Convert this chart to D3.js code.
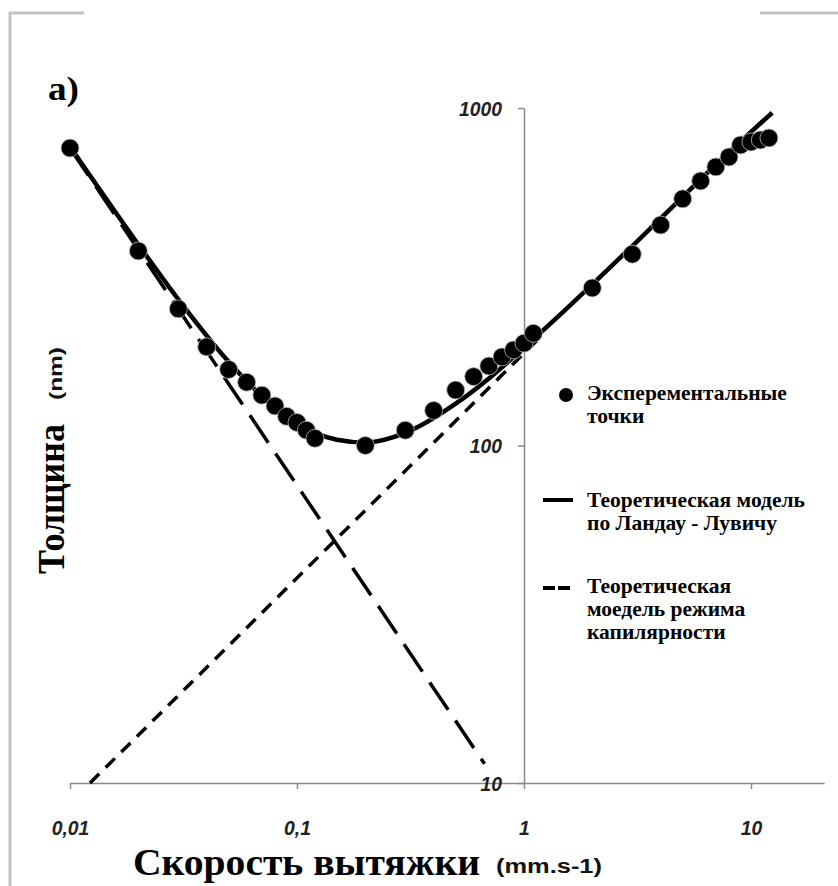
<!doctype html>
<html>
<head>
<style>
body { margin: 0; background: #fff; }
svg { display: block; }
.tick text { font-family: "Liberation Sans", Arial, sans-serif; font-weight: bold; font-style: italic; font-size: 21px; fill: #222; }
.serif { font-family: "Liberation Serif", "Times New Roman", serif; font-weight: bold; fill: #000; }
.sans { font-family: "Liberation Sans", Arial, sans-serif; font-weight: bold; fill: #111; }
</style>
</head>
<body>
<svg width="838" height="886" id="chart"></svg>
<script src="https://d3js.org/d3.v7.min.js"></script>
<script>
// axis ticks
var speedTicks = [0.01, 0.1, 1, 10];
var speedTickLabels = ["0,01", "0,1", "1", "10"];
var thickTicks = [10, 100, 1000];
var thickTickLabels = ["10", "100", "1000"];

// experimental points, speed (mm/s) and thickness (nm)
var pointSpeed = [0.01, 0.02, 0.03, 0.04, 0.05, 0.06, 0.07, 0.08, 0.09, 0.1, 0.11, 0.12,
                  0.2, 0.3, 0.4, 0.5, 0.6, 0.7, 0.8, 0.9, 1.0, 1.1,
                  2, 3, 4, 5, 6, 7, 8, 9, 10, 11, 12];
var pointThick = [761, 377, 254, 196, 168, 154, 141, 131, 122, 117, 111, 105,
                  100, 111, 127, 146, 160, 172, 183, 192, 201, 215,
                  293, 369, 450, 538, 608, 669, 716, 777, 793, 804, 815];

// Landau-Levich model curve
var modelSpeed = [0.01, 0.02, 0.03, 0.05, 0.07, 0.1, 0.15, 0.2, 0.3, 0.5, 0.7, 1, 1.5, 2, 3, 5, 7, 10, 12.4];
var modelThick = [769, 394, 271, 177, 140, 116, 104, 102, 109, 133, 158, 195, 250, 300, 390, 545, 680, 850, 968];

// capillary regime lines (two dashed straight lines on log-log)
var capSpeed = [0.01, 0.67];
var capThick = [760, 11.4];
var llSpeed = [0.01225, 1.15];
var llThick = [10, 206];

var svg = d3.select("#chart");

svg.append("rect").attr("width", 838).attr("height", 886).attr("fill", "#fff");

// picture frame remains
var frame = svg.append("g").attr("stroke", "#c4c4c4").attr("stroke-width", 3).attr("fill", "none");
frame.append("path").attr("d", "M10,886V13H84");
frame.append("path").attr("d", "M760,13H838");

var x = d3.scaleLog().domain([0.01, 10]).range([70, 751]);
var y = d3.scaleLog().domain([10, 1000]).range([783, 108]);
var xAxisScale = x.copy().domain([0.01, 21]).range([70, x(21)]);

var xAxis = svg.append("g")
    .attr("transform", "translate(0," + y(10) + ")")
    .call(d3.axisBottom(xAxisScale).tickValues(speedTicks)
        .tickFormat(function(d, i) { return speedTickLabels[i]; })
        .tickSize(6).tickSizeOuter(0).tickPadding(31));

var yAxis = svg.append("g")
    .attr("transform", "translate(" + x(1) + ",0)")
    .call(d3.axisLeft(y).tickValues(thickTicks)
        .tickFormat(function(d, i) { return thickTickLabels[i]; })
        .tickSize(6).tickSizeOuter(0).tickPadding(16));

svg.selectAll(".domain, .tick line").attr("stroke", "#8a8a8a").attr("stroke-width", 1.5);
yAxis.selectAll(".tick text").attr("dy", "0.35em");
svg.selectAll(".tick text").attr("textLength", function() { return this.getComputedTextLength() * 0.92; })
    .attr("lengthAdjust", "spacingAndGlyphs");

var line = d3.line()
    .x(function(d) { return x(d[0]); })
    .y(function(d) { return y(d[1]); });

svg.append("path")
    .attr("d", line(d3.zip(llSpeed, llThick)))
    .attr("fill", "none").attr("stroke", "#000").attr("stroke-width", 3.5)
    .attr("stroke-dasharray", "13,9");

svg.append("path")
    .attr("d", line(d3.zip(capSpeed, capThick)))
    .attr("fill", "none").attr("stroke", "#000").attr("stroke-width", 3.5)
    .attr("stroke-dasharray", "33,13");

svg.append("path")
    .attr("d", line.curve(d3.curveMonotoneX)(d3.zip(modelSpeed, modelThick)))
    .attr("fill", "none").attr("stroke", "#000").attr("stroke-width", 4.5);

svg.append("g").selectAll("circle")
    .data(d3.zip(pointSpeed, pointThick))
    .enter().append("circle")
    .attr("cx", function(d) { return x(d[0]); })
    .attr("cy", function(d) { return y(d[1]); })
    .attr("r", 9)
    .attr("fill", "#000")
    .attr("stroke", "#bbb").attr("stroke-width", 0.8);

// titles
svg.append("text").attr("class", "serif").attr("x", 48).attr("y", 100)
    .attr("font-size", 34).attr("textLength", 31).attr("lengthAdjust", "spacingAndGlyphs").text("a)");

svg.append("text").attr("class", "serif")
    .attr("transform", "translate(64,574) rotate(-90)")
    .attr("font-size", 37).attr("textLength", 150).attr("lengthAdjust", "spacingAndGlyphs")
    .text("Толщина");
svg.append("text").attr("class", "sans")
    .attr("transform", "translate(62,400) rotate(-90)")
    .attr("font-size", 18).attr("textLength", 53).attr("lengthAdjust", "spacingAndGlyphs")
    .text("(nm)");

svg.append("text").attr("class", "serif").attr("x", 133).attr("y", 875)
    .attr("font-size", 37).attr("textLength", 347).attr("lengthAdjust", "spacingAndGlyphs")
    .text("Скорость вытяжки");
svg.append("text").attr("class", "sans").attr("x", 496).attr("y", 873)
    .attr("font-size", 20).attr("textLength", 106).attr("lengthAdjust", "spacingAndGlyphs")
    .text("(mm.s-1)");

// legend
var legendLines = [
    ["Эксперементальные", "точки"],
    ["Теоретическая модель", "по Ландау - Лувичу"],
    ["Теоретическая", "моедель режима", "капилярности"]
];
var legendTop = [400, 507, 593];
var legend = svg.append("g");
legendLines.forEach(function(lines, k) {
    lines.forEach(function(s, j) {
        legend.append("text").attr("class", "serif").attr("font-size", 21.5)
            .attr("x", 587).attr("y", legendTop[k] + j * 23).text(s);
    });
});
legend.append("circle").attr("cx", 566).attr("cy", 395).attr("r", 7).attr("fill", "#000");
legend.append("line").attr("x1", 543).attr("x2", 573).attr("y1", 500).attr("y2", 500)
    .attr("stroke", "#000").attr("stroke-width", 4);
legend.append("line").attr("x1", 543).attr("x2", 573).attr("y1", 588).attr("y2", 588)
    .attr("stroke", "#000").attr("stroke-width", 4).attr("stroke-dasharray", "12,3");
</script>
</body>
</html>
